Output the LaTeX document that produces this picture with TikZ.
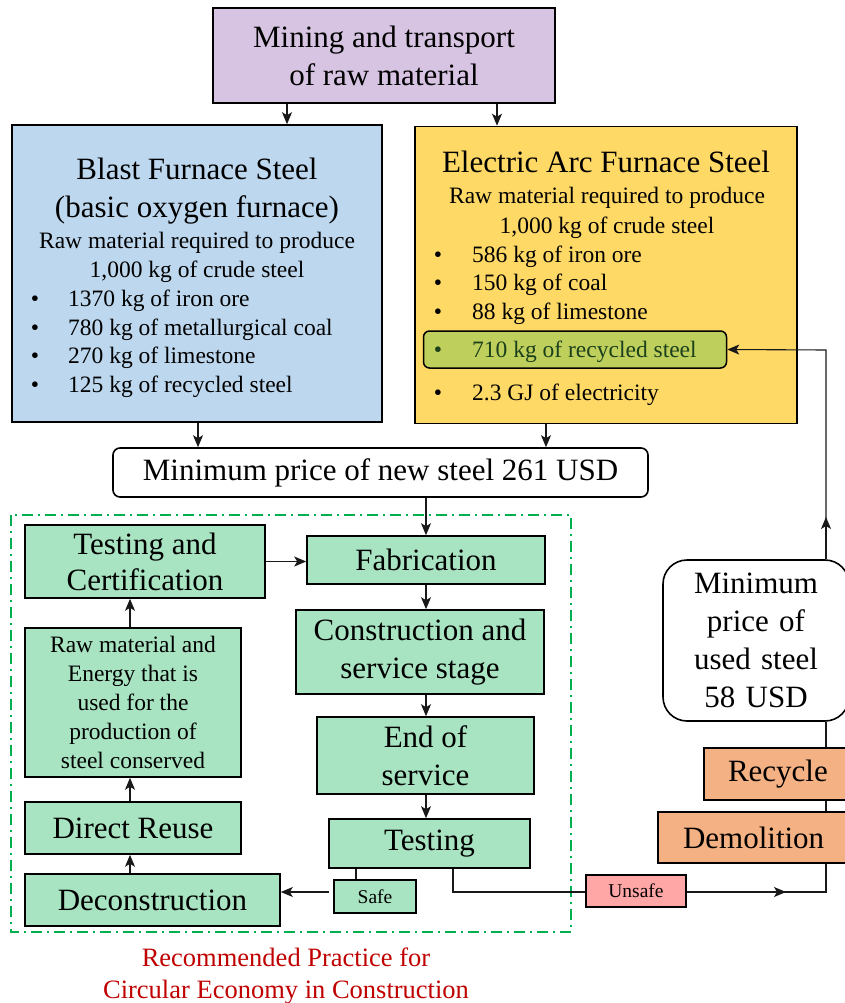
\documentclass[tikz,border=0pt]{standalone}
\usepackage{fontspec}
\setmainfont{Liberation Serif}
\usetikzlibrary{arrows.meta,calc}
\definecolor{cpurple}{HTML}{D7C4E2}
\definecolor{cblue}{HTML}{BDD7EE}
\definecolor{cyellow}{HTML}{FFD966}
\definecolor{chigh}{HTML}{BFCF5C}
\definecolor{cdkgreen}{HTML}{1B401B}
\definecolor{cmint}{HTML}{A8E4C2}
\definecolor{corange}{HTML}{F4B183}
\definecolor{cpink}{HTML}{FFA6A6}
\definecolor{cframe}{HTML}{00B050}
\definecolor{ccaption}{HTML}{C00000}
\begin{document}
\begin{tikzpicture}[x=1pt,y=-1pt,
  box/.style={draw=black, line width=1.6pt, inner sep=0pt, align=center},
  mint/.style={box, fill=cmint},
  orng/.style={box, fill=corange},
  conn/.style={line width=1.1pt, draw=black!90},
  arr/.style={conn, -{Stealth[length=12pt,width=10pt,inset=3pt]}},
  big/.style={font=\fontsize{31}{38}\selectfont},
  midf/.style={font=\fontsize{23.5}{29}\selectfont},
  smallf/.style={font=\fontsize{19.5}{22}\selectfont},
  txt/.style={inner sep=0pt, anchor=base},
  btxt/.style={inner sep=0pt, anchor=base west, midf},
  bul/.style={inner sep=0pt, anchor=base, midf},
]
\useasboundingbox (0,0) rectangle (845,1003);
\clip (0,0) rectangle (845,1003);

% ---------- top ----------
\node[box, fill=cpurple, minimum width=342pt, minimum height=95pt, big] (mine) at (384,55.5) {Mining and transport\\of raw material};

% ---------- blast furnace ----------
\node[box, fill=cblue, minimum width=370pt, minimum height=297pt] (bf) at (197,273.5) {};
\node[txt, big] (bf1) at (197,180) {Blast Furnace Steel};
\node[txt, big] (bf2) at (197,217) {(basic oxygen furnace)};
\node[txt, midf] (bf3) at (197,248) {Raw material required to produce};
\node[txt, midf] (bf4) at (197,277) {1,000 kg of crude steel};
\node[bul] (bfb1) at (35,306) {\textbullet};
\node[btxt] (bfi1) at (68,306) {1370 kg of iron ore};
\node[bul] (bfb2) at (35,335) {\textbullet};
\node[btxt] (bfi2) at (68,335) {780 kg of metallurgical coal};
\node[bul] (bfb3) at (35,363) {\textbullet};
\node[btxt] (bfi3) at (68,363) {270 kg of limestone};
\node[bul] (bfb4) at (35,392) {\textbullet};
\node[btxt] (bfi4) at (68,392) {125 kg of recycled steel};

% ---------- electric arc furnace ----------
\node[box, fill=cyellow, minimum width=382pt, minimum height=297pt] (eaf) at (606,275) {};
\node[txt, big] (ea1) at (606,173) {Electric Arc Furnace Steel};
\node[txt, midf] (ea2) at (607,204) {Raw material required to produce};
\node[txt, midf] (ea3) at (607,233) {1,000 kg of crude steel};
\node[bul] (eab1) at (438,262) {\textbullet};
\node[btxt] (eai1) at (472,262) {586 kg of iron ore};
\node[bul] (eab2) at (438,290) {\textbullet};
\node[btxt] (eai2) at (472,290) {150 kg of coal};
\node[bul] (eab3) at (438,319) {\textbullet};
\node[btxt] (eai3) at (472,319) {88 kg of limestone};
\node[box, fill=chigh, rounded corners=6pt, line width=1.5pt, minimum width=303pt, minimum height=37pt] (rec) at (575,349.5) {};
\node[bul, text=cdkgreen] (eab4) at (438,357) {\textbullet};
\node[btxt, text=cdkgreen] (eai4) at (472,357) {710 kg of recycled steel};
\node[bul] (eab5) at (438,400) {\textbullet};
\node[btxt] (eai5) at (472,400) {2.3 GJ of electricity};

% ---------- new steel price ----------
\node[box, fill=white, rounded corners=7pt, minimum width=535pt, minimum height=49pt, big] (newp) at (380.5,472.5) {Minimum price of new steel 261 USD};

% ---------- recommended practice frame ----------
\draw[cframe, line width=2pt, dash pattern=on 11pt off 5pt on 2pt off 5pt] (11,515) rectangle (571,932);
\node[txt, font=\fontsize{26.5}{32}\selectfont, text=ccaption] (cap1) at (286,966) {Recommended Practice for};
\node[txt, font=\fontsize{26.5}{32}\selectfont, text=ccaption] (cap2) at (286,998) {Circular Economy in Construction};

% ---------- green boxes ----------
\node[mint, minimum width=240pt, minimum height=73pt, font=\fontsize{31}{36}\selectfont] (tc) at (145,561.5) {Testing and\\Certification};
\node[mint, big, minimum width=238pt, minimum height=48pt] (fab) at (426,560) {Fabrication};
\node[mint, big, minimum width=248pt, minimum height=84pt] (cons) at (420,652) {Construction and\\service stage};
\node[mint, big, minimum width=217pt, minimum height=77pt] (eos) at (425.5,755.5) {End of\\service};
\node[mint, big, minimum width=201pt, minimum height=49pt] (test) at (429.5,843.5) {Testing};
\node[mint, smallf, minimum width=82pt, minimum height=33pt, line width=1.4pt] (safe) at (375,896.5) {Safe};
\node[mint, big, minimum width=255pt, minimum height=52pt] (decon) at (152.5,900) {Deconstruction};
\node[mint, big, minimum width=216pt, minimum height=52pt] (reuse) at (133,828) {Direct Reuse};
\node[mint, midf, minimum width=216pt, minimum height=149pt] (raw) at (133,702.5) {Raw material and\\Energy that is\\used for the\\production of\\steel conserved};

% ---------- right column ----------
\node[box, fill=cpink, smallf, minimum width=100pt, minimum height=32pt, line width=1.4pt] (unsafe) at (636,891) {Unsafe};
\node[orng, big, minimum width=192pt, minimum height=51pt, text width=192pt, align=left] (demo) at (754,837.5) {\hspace*{25pt}Demolition};
\node[orng, big, minimum width=146pt, minimum height=52pt, text width=146pt, align=left] (recy) at (777,774) {\hspace*{24pt}Recycle};
\node[box, fill=white, rounded corners=24pt, big, minimum width=186pt, minimum height=161pt, text width=186pt] (used) at (756,640.5) {Minimum\\price of\\used steel\\58 USD};

% ---------- helper coordinates ----------
\coordinate (xa) at (287,0);
\coordinate (xb) at (497,0);
\coordinate (xc) at (198,0);
\coordinate (xd) at (546,0);
\coordinate (xl) at (130,0);
\coordinate (xs) at (356,0);
\coordinate (xu) at (453,0);
\coordinate (xr) at (826,0);
\coordinate (ys) at (0,892);
\coordinate (yr) at (0,350);
\coordinate (sfs) at (329,892);
\coordinate (ah1) at (786,892);
\coordinate (ah2) at (826,517);

% ---------- connectors ----------
\draw[arr] (mine.south -| xa) -- (bf.north -| xa);
\draw[arr] (mine.south -| xb) -- (eaf.north -| xb);
\draw[arr] (bf.south -| xc) -- (newp.north -| xc);
\draw[arr] (eaf.south -| xd) -- (newp.north -| xd);
\draw[arr] (newp.south -| fab.north) -- (fab.north);
\draw[arr] (tc.east) -- (tc.east -| fab.west);
\draw[arr] (fab.south) -- (fab.south |- cons.north);
\draw[arr] (cons.south -| fab.south) -- (eos.north -| fab.south);
\draw[arr] (eos.south -| fab.south) -- (test.north -| fab.south);
\draw[conn] (test.south -| xs) -- (safe.north -| xs);
\draw[arr] (sfs) -- (sfs -| decon.east);
\draw[arr] (decon.north -| xl) -- (reuse.south -| xl);
\draw[arr] (reuse.north -| xl) -- (raw.south -| xl);
\draw[arr] (raw.north -| xl) -- (tc.south -| xl);
\draw[conn] (test.south -| xu) -- (xu |- ys) -- (unsafe.west |- ys);
\draw[conn] (unsafe.east |- ys) -- (xr |- ys) -- (demo.south -| xr);
\draw[arr] (unsafe.east |- ys) -- (ah1);
\draw[conn] (demo.north -| xr) -- (recy.south -| xr);
\draw[conn] (recy.north -| xr) -- (used.south -| xr);
\draw[arr] (used.north -| xr) -- (xr |- yr) -- (rec.east);
\draw[arr] (used.north -| xr) -- (ah2);
\end{tikzpicture}
\end{document}
